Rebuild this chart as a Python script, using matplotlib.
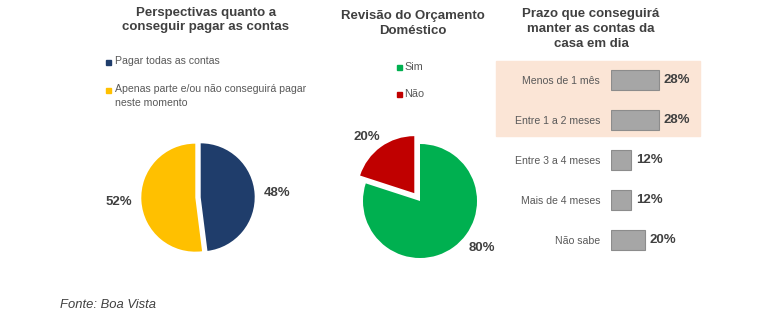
import matplotlib
matplotlib.use('Agg')
import matplotlib.pyplot as plt
from matplotlib.patches import Rectangle

plt.rcParams['font.family'] = ['Liberation Sans', 'DejaVu Sans']

W, H = 780, 330

# dados
contas_labels = ['Pagar todas as contas', 'Apenas parte e/ou não conseguirá pagar\nneste momento']
contas_vals = [48, 52]
contas_colors = ['#1f3d6b', '#ffc000']

revisao_labels = ['Sim', 'Não']
revisao_vals = [80, 20]
revisao_colors = ['#00b050', '#c00000']

prazo_labels = ['Menos de 1 mês', 'Entre 1 a 2 meses', 'Entre 3 a 4 meses',
                'Mais de 4 meses', 'Não sabe']
prazo_vals = [28, 28, 12, 12, 20]

title_c = '#404040'
text_c = '#595959'


def box(x, y, w, h):
    # pixels (origin top-left) -> figure fraction
    return [x / W, 1 - (y + h) / H, w / W, h / H]


def fx(x):
    return x / W


def fy(y):
    return 1 - y / H


def marker(x, y, color):
    fig.add_artist(Rectangle((fx(x - 2.5), fy(y + 2.5)), 5 / W, 5 / H,
                             transform=fig.transFigure, color=color))


fig = plt.figure(figsize=(7.8, 3.3), dpi=100)

# --- pie 1
ax1 = fig.add_axes(box(198 - 81, 197.5 - 81, 162, 162))
ax1.pie(contas_vals, colors=contas_colors, startangle=90, counterclock=False,
        explode=[0.05, 0.05], autopct=lambda p: f'{p:.0f}%', pctdistance=1.42,
        textprops=dict(fontsize=9.5, fontweight='bold', color=title_c))
ax1.set_xlim(-1.5, 1.5)
ax1.set_ylim(-1.5, 1.5)
ax1.set_aspect('equal')
ax1.set_facecolor('none')

fig.text(fx(206), fy(20), 'Perspectivas quanto a\nconseguir pagar as contas',
         ha='center', va='center', fontsize=9.5, fontweight='bold',
         color=title_c, linespacing=1.3)
for i, (lab, c) in enumerate(zip(contas_labels, contas_colors)):
    yy = [62, 90][i]
    marker(108, yy, c)
    fig.text(fx(115), fy(yy - 6), lab, ha='left', va='top', fontsize=7.6,
             color=text_c, linespacing=1.45)

# --- pie 2
ax2 = fig.add_axes(box(420 - 85.5, 201 - 85.5, 171, 171))
ax2.pie(revisao_vals, colors=revisao_colors, startangle=90, counterclock=False,
        explode=[0, 0.17])
ax2.set_xlim(-1.5, 1.5)
ax2.set_ylim(-1.5, 1.5)
ax2.set_aspect('equal')
ax2.set_facecolor('none')
for v, (tx, ty) in zip(revisao_vals, [(1.09, -0.82), (-0.93, 1.12)]):
    ax2.text(tx, ty, f'{v}%', ha='center', va='center', fontsize=9.5,
             fontweight='bold', color=title_c)

fig.text(fx(413), fy(23.5), 'Revisão do Orçamento\nDoméstico',
         ha='center', va='center', fontsize=9.5, fontweight='bold',
         color=title_c, linespacing=1.3)
for i, (lab, c) in enumerate(zip(revisao_labels, revisao_colors)):
    yy = [67, 94][i]
    marker(399, yy, c)
    fig.text(fx(404), fy(yy), lab, ha='left', va='center', fontsize=7.8,
             color=text_c)

# --- barras
ax3 = fig.add_axes(box(611, 60, 93.5, 200))
ax3.set_facecolor('none')
ax3.add_patch(Rectangle((-67.6, -0.475), 120, 1.875, color='#fbe5d6',
                        clip_on=False, zorder=0))
y = list(range(len(prazo_vals)))
ax3.barh(y, prazo_vals, height=0.48, color='#a6a6a6', edgecolor='#8c8c8c',
         linewidth=0.8, zorder=2)
for i, v in enumerate(prazo_vals):
    ax3.text(v + 2.6, i, f'{v}%', ha='left', va='center', fontsize=9.5,
             fontweight='bold', color=title_c)
ax3.set_xlim(0, 55)
ax3.set_ylim(4.5, -0.5)
ax3.set_yticks(y)
ax3.set_yticklabels(prazo_labels, fontsize=7.6, color=text_c)
ax3.tick_params(axis='y', length=0, pad=7.9)
ax3.set_xticks([])
for s in ax3.spines.values():
    s.set_visible(False)

fig.text(fx(591), fy(29), 'Prazo que conseguirá\nmanter as contas da\ncasa em dia',
         ha='center', va='center', fontsize=9.5, fontweight='bold',
         color=title_c, linespacing=1.3)

fig.text(fx(60), fy(305), 'Fonte: Boa Vista', ha='left', va='center',
         fontsize=9.4, style='italic', color=title_c)

fig.savefig('out.png', dpi=100)
